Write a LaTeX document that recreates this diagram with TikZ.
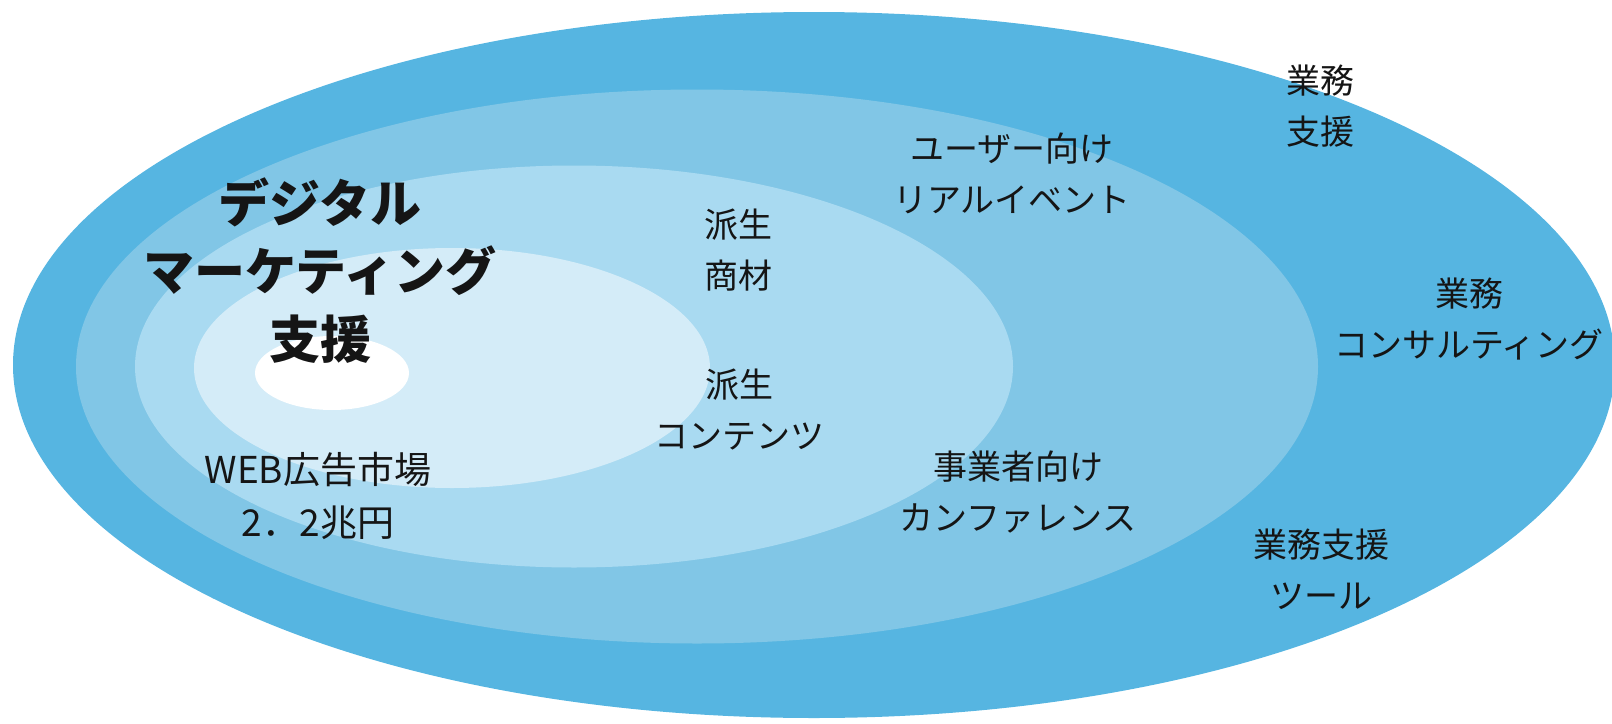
\documentclass[tikz,border=0pt]{standalone}
\usepackage{fontspec}
\newfontfamily\jp{Noto Sans CJK JP}
\definecolor{cA}{HTML}{56B5E1}
\definecolor{cB}{HTML}{81C6E6}
\definecolor{cC}{HTML}{A9DAF1}
\definecolor{cD}{HTML}{D4ECF8}
\definecolor{ink}{HTML}{151515}
\tikzset{
  lbl/.style={align=center, text=ink, inner sep=0pt, font=\jp\fontsize{34}{51}\selectfont},
  title/.style={align=center, text=ink, inner sep=0pt, font=\jp\bfseries\fontsize{51}{68}\selectfont}
}
\begin{document}
\begin{tikzpicture}[x=1pt,y=-1pt]
\useasboundingbox (0,0) rectangle (1612,723);
\fill[cA] (814,365) ellipse [x radius=801pt, y radius=353pt];
\fill[cB] (697,366.5) ellipse [x radius=621pt, y radius=277pt];
\fill[cC] (574,366.5) ellipse [x radius=439pt, y radius=201pt];
\fill[cD] (452,368) ellipse [x radius=258pt, y radius=120pt];
\fill[white] (332,373) ellipse [x radius=77pt, y radius=37pt];

\node[title] (dm) at (320,271) {デジタル\\マーケティング\\支援};
\node[lbl, font=\jp\fontsize{37}{53}\selectfont] (web) at (318,496) {WEB広告市場\\2．2兆円};
\node[lbl] (ha1) at (738,250) {派生\\商材};
\node[lbl] (ha2) at (739,409) {派生\\コンテンツ};
\node[lbl] (user) at (1012,173) {ユーザー向け\\リアルイベント};
\node[lbl] (biz) at (1018,492) {事業者向け\\カンファレンス};
\node[lbl] (gs) at (1320,106) {業務\\支援};
\node[lbl] (gc) at (1469,319) {業務\\コンサルティング};
\node[lbl] (gt) at (1321,569) {業務支援\\ツール};
\end{tikzpicture}
\end{document}
